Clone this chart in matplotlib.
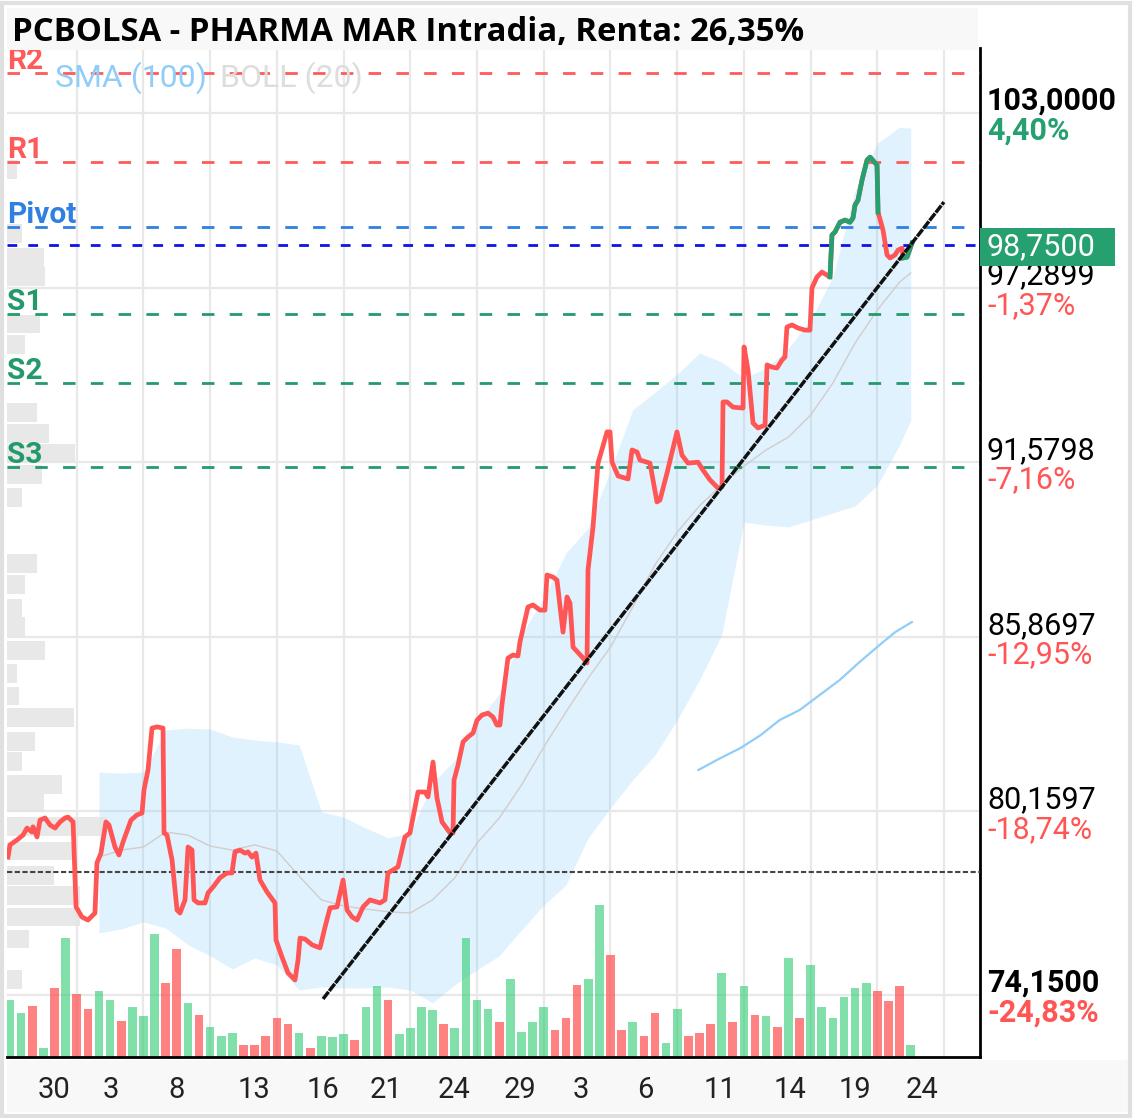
import numpy as np
import matplotlib
matplotlib.use("Agg")
import matplotlib.pyplot as plt
import matplotlib.transforms as mtransforms
from matplotlib.patches import Rectangle

plt.rcParams['font.family'] = ['Roboto', 'DejaVu Sans']

# ---- data (x = bar index, y = price in EUR) ----
price_x = [-0.18, 0.0, 0.63, 1.17, 1.53, 1.98, 2.07, 2.43, 2.70, 3.15, 3.60, 4.05, 4.50, 4.95, 5.22,
           5.67, 5.94, 6.47, 7.01, 7.64, 7.82, 8.18, 8.63, 8.90, 9.44, 9.80, 10.16, 10.88, 11.42,
           11.87, 12.05, 12.41, 12.77, 13.22, 13.76, 13.85, 14.12, 14.57, 15.02, 15.29, 15.74,
           16.01, 16.37, 16.55, 16.91, 17.54, 17.81, 18.26, 18.88, 19.51, 19.96, 20.23, 20.68,
           21.13, 21.40, 21.76, 22.12, 22.48, 23.11, 23.83, 23.92, 24.46, 25.00, 25.63, 25.90,
           26.08, 26.53, 27.16, 27.88, 28.33, 28.78, 29.41, 29.95, 30.31, 30.76, 31.21, 31.75,
           32.37, 33.27, 33.72, 33.99, 34.89, 35.52, 35.97, 36.69, 37.32, 37.59, 38.04, 38.40,
           38.85, 39.57, 39.84, 39.93, 40.29, 40.74, 41.19, 41.64, 42.00, 42.45, 42.99, 43.44,
           43.79, 44.06, 44.24, 44.78, 45.23, 45.68, 45.86, 46.58, 47.03, 47.66, 48.11, 48.29,
           48.83, 49.19, 49.73, 50.09, 50.36, 50.63, 51.44, 51.89, 51.98, 52.43, 52.88, 53.69,
           53.96, 54.14, 54.68, 55.58, 55.94, 56.39, 56.65, 57.28, 57.55, 58.18, 58.45, 59.08,
           59.98, 60.43, 60.97, 61.87, 62.32, 62.95, 63.67, 64.03, 64.12, 64.48, 65.02, 65.92,
           66.01, 66.37, 66.82, 67.27, 67.90, 68.08, 68.53, 68.97, 69.42, 69.69, 69.87, 70.32,
           70.86, 71.49, 71.94, 72.12, 72.57, 73.02, 73.47, 73.74, 73.92, 74.19, 74.64, 75.09,
           75.54, 75.81, 75.99, 76.26, 76.62, 77.07, 77.34, 77.97, 78.06, 78.51, 78.87, 79.14,
           79.59, 79.86, 80.22, 80.31, 80.67, 81.12]
price_y = [78.66, 79.06, 79.22, 79.38, 79.61, 79.48, 79.65, 79.32, 79.87, 79.94, 79.71, 79.61, 79.81,
           79.94, 79.97, 79.81, 77.03, 76.70, 76.60, 76.83, 78.47, 78.79, 79.81, 79.71, 78.99,
           78.73, 79.15, 79.87, 80.04, 80.10, 80.86, 81.51, 82.88, 82.92, 82.88, 79.45, 79.38,
           78.57, 76.93, 76.83, 77.26, 78.99, 78.89, 77.26, 77.16, 77.16, 77.49, 77.68, 77.98,
           78.14, 78.14, 78.83, 78.89, 78.79, 78.83, 78.66, 78.79, 77.91, 77.52, 77.16, 75.95,
           75.39, 74.87, 74.64, 75.29, 76.01, 75.98, 75.79, 75.69, 76.37, 77.00, 77.03, 77.91,
           76.93, 76.70, 76.60, 77.03, 77.26, 77.16, 77.26, 78.14, 78.34, 79.32, 79.45, 80.79,
           80.79, 80.63, 81.77, 80.59, 79.81, 79.45, 79.45, 81.18, 81.67, 82.43, 82.59, 82.72,
           83.14, 83.31, 83.37, 83.24, 82.98, 82.98, 83.64, 85.17, 85.27, 85.24, 85.70, 86.84,
           86.91, 86.74, 86.74, 87.89, 87.82, 87.72, 86.02, 87.17, 86.97, 85.53, 85.21, 85.01,
           88.05, 89.46, 91.55, 92.57, 92.57, 91.58, 91.13, 91.03, 91.98, 91.91, 91.65, 91.58,
           91.55, 90.28, 90.34, 91.22, 92.57, 91.81, 91.55, 91.58, 91.32, 91.00, 90.73, 90.77,
           93.55, 93.55, 93.38, 93.35, 95.35, 94.59, 92.86, 92.70, 92.79, 94.76, 94.69, 94.66,
           94.92, 95.02, 96.00, 96.07, 95.97, 95.90, 95.90, 97.28, 97.64, 97.80, 97.70, 97.64,
           99.01, 99.11, 99.43, 99.50, 99.43, 99.57, 99.99, 100.15, 100.81, 101.46, 101.56,
           101.30, 99.76, 99.17, 98.36, 98.26, 98.36, 98.52, 98.58, 98.26, 98.29, 98.75]
# stretches of the price line drawn in green
green_spans = [(73.74, 78.06), (80.31, 81.12)]

band_x = [8, 10, 12, 14, 16, 18, 20, 22, 24, 26, 28, 30, 32, 34, 36, 38, 40, 42, 44, 46, 48, 50,
          52, 54, 56, 58, 60, 62, 64, 66, 68, 70, 72, 74, 76, 78, 80, 81]
band_upper = [81.44, 81.41, 81.44, 82.82, 82.88, 82.85, 82.59, 82.49, 82.43, 82.33, 80.14, 79.97,
              79.61, 79.29, 79.45, 81.08, 81.84, 83.08, 84.00, 85.93, 87.14, 88.61, 89.43, 91.32,
              93.29, 93.87, 94.46, 95.15, 94.86, 94.33, 94.66, 95.31, 96.23, 97.64, 100.48,
              102.02, 102.54, 102.51]
band_lower = [76.18, 76.31, 76.54, 76.34, 75.79, 75.43, 75.00, 75.36, 75.13, 74.31, 74.41, 74.38,
              74.38, 74.41, 74.31, 73.89, 74.48, 74.97, 75.43, 76.28, 77.09, 77.75, 79.29, 80.27,
              81.18, 82.00, 83.15, 84.45, 85.93, 89.62, 89.52, 89.46, 89.69, 89.92, 90.15, 90.83,
              92.14, 92.96]
band_mid = [78.66, 78.89, 78.99, 79.48, 79.38, 79.02, 78.89, 79.06, 78.86, 78.04, 77.26, 77.06,
            76.96, 76.87, 76.83, 77.26, 77.98, 79.12, 79.94, 81.02, 82.26, 83.41, 84.52, 85.53,
            86.84, 88.22, 89.29, 90.15, 90.83, 91.45, 91.98, 92.40, 93.12, 94.17, 95.48, 96.56,
            97.47, 97.77]

sma_x = [61.9, 63.9, 65.7, 67.5, 69.2, 71.0, 72.8, 74.6, 76.4, 78.2, 79.6, 81.1]
sma_y = [81.51, 81.90, 82.23, 82.65, 83.14, 83.47, 83.96, 84.45, 85.04, 85.60, 86.02, 86.35]

trend_x = [28.15, 83.99]
trend_y = [74.02, 100.09]

volume = [57, 44, 51, 9, 69, 119, 63, 48, 66, 57, 36, 50, 41, 123, 74, 108, 54, 42, 30, 21,
          24, 12, 12, 21, 39, 33, 24, 9, 21, 20, 23, 17, 50, 71, 57, 23, 29, 50, 47, 33,
          29, 119, 57, 48, 35, 78, 25, 35, 50, 27, 39, 72, 78, 152, 102, 27, 35, 21, 44, 14,
          48, 21, 24, 33, 84, 35, 71, 42, 41, 30, 99, 39, 92, 50, 39, 60, 69, 74, 66, 56,
          71, 12]
vol_dir = ("ggrgrgrrgg" "rgggrrgrgg" "grrrrrgrgg" "grggrggggr" "ggggrggggr"
           "rrggrrgrrg" "grrrgrgrgr" "grggggggrr" "rg")

profile_price = [101.14, 99.07, 98.29, 97.67, 96.10, 95.44, 93.19, 92.53, 91.88, 91.19, 90.41,
                 88.25, 87.59, 86.81, 86.19, 85.43, 84.68, 83.93, 83.24, 82.43, 81.80, 81.02,
                 80.43, 79.65, 78.86, 78.07, 77.39, 76.70, 75.98, 74.64]
profile_vol = [10, 15, 37, 38, 33, 18, 30, 42, 68, 35, 15, 30, 18, 15, 18, 38, 10, 12, 67, 28,
               15, 55, 37, 100, 65, 47, 73, 73, 22, 15]

levels = {'R2': 104.31, 'R1': 101.41, 'Pivot': 99.27, 'S1': 96.42, 'S2': 94.17, 'S3': 91.42}
level_colors = {'R2': '#ff5a5a', 'R1': '#ff5a5a', 'Pivot': '#2f80e0',
                'S1': '#249a6c', 'S2': '#249a6c', 'S3': '#249a6c'}
prev_close = 98.68
ref_line = 78.17
last_price = 98.75

grid_price = [103.0, 97.2899, 91.5798, 85.8697, 80.1597, 74.15]
price_labels = ['103,0000', '97,2899', '91,5798', '85,8697', '80,1597', '74,1500']
pct_labels = ['4,40%', '-1,37%', '-7,16%', '-12,95%', '-18,74%', '-24,83%']

date_pos = [4, 9.1, 15, 21.9, 28.1, 33.8, 39.9, 45.9, 51.3, 57.1, 63.8, 70.1, 76.0, 82.0]
date_labels = ['30', '3', '8', '13', '16', '21', '24', '29', '3', '6', '11', '14', '19', '24']
grid_bars = list(range(6, 85, 6))

RED = '#ff5555'
GREEN = '#27a06f'
VOL_SPAN = 1009      # volume units over the full plot height
PROFILE_SPAN = 973   # profile units over the full plot width

# ---- figure ----
fig = plt.figure(figsize=(11.33, 11.18), dpi=100)
ax = fig.add_axes([7 / 1133, 1 - 1057 / 1118, 973 / 1133, 1009 / 1118])
ax.set_xlim(-0.27, 87.23)
ax.set_ylim(72.12, 105.13)

ax.set_xticks(grid_bars, minor=True)
ax.set_xticks(date_pos, labels=date_labels)
ax.set_yticks(grid_price)
ax.set_yticklabels([])
ax.xaxis.grid(True, which='minor', color='#e8e8e8', lw=1.6)
ax.yaxis.grid(True, which='major', color='#e8e8e8', lw=1.6)
ax.set_axisbelow(True)
ax.tick_params(axis='both', which='both', length=0)
ax.tick_params(axis='x', which='major', labelsize=21, labelcolor='#222222', pad=14)
for s in ['top', 'left']:
    ax.spines[s].set_visible(False)
for s in ['right', 'bottom']:
    ax.spines[s].set_color('black')
    ax.spines[s].set_linewidth(2)

# bollinger band
ax.fill_between(band_x, band_lower, band_upper, color='#87cefa', alpha=0.25, lw=0, zorder=1)
ax.plot(band_x, band_mid, color='#d2cccc', lw=1, zorder=2)
ax.plot(sma_x, sma_y, color='#90cdf8', lw=1.6, zorder=2)

# volume profile on the left
prof_tr = mtransforms.blended_transform_factory(
    mtransforms.Affine2D().scale(1 / PROFILE_SPAN, 1) + ax.transAxes, ax.transData)
ax.barh(profile_price, profile_vol, height=0.62, left=0, color='#e4e4e4', alpha=0.85,
        transform=prof_tr, zorder=1.2)

# volume bars
vol_tr = mtransforms.blended_transform_factory(
    ax.transData, mtransforms.Affine2D().scale(1, 1 / VOL_SPAN) + ax.transAxes)
vol_x = np.arange(len(volume))
for x, v, d in zip(vol_x, volume, vol_dir):
    ax.bar(x, v, width=0.78, color='#2ecc71' if d == 'g' else '#ff4d4d',
           alpha=0.6 if d == 'g' else 0.7, transform=vol_tr, zorder=1.5)

# pivot levels
for name, v in levels.items():
    ax.axhline(v, color=level_colors[name], lw=2, ls=(0, (4.5, 5.5)), zorder=3)
    ax.annotate(name, xy=(0, v), xycoords=ax.get_yaxis_transform(), xytext=(0, 3),
                textcoords='offset points', va='baseline', ha='left', fontsize=21.5,
                fontweight='semibold', color=level_colors[name], zorder=3,
                annotation_clip=False)
ax.axhline(prev_close, color='#1010e8', lw=2, ls=(0, (3.5, 4)), zorder=3)
ax.axhline(ref_line, color='#444444', lw=1.5, ls=(0, (2.5, 1.2)), zorder=3)

# price line
ax.plot(price_x, price_y, color=RED, lw=3.4, zorder=4, solid_joinstyle='round')
px = np.array(price_x)
py = np.array(price_y)
for a, b in green_spans:
    i0 = int(np.searchsorted(px, a))
    i1 = int(np.searchsorted(px, b)) + 1
    ax.plot(px[i0:i1], py[i0:i1], color=GREEN, lw=3.4, zorder=4.1, solid_joinstyle='round')

# trend line
ax.plot(trend_x, trend_y, color='#111111', lw=2.5, ls=(0, (2.6, 0.3)), zorder=5)

# right-hand price scale
ytr = ax.get_yaxis_transform()
for i, (v, lab, pct) in enumerate(zip(grid_price, price_labels, pct_labels)):
    bold = i in (0, len(grid_price) - 1)
    ax.annotate(lab, xy=(1, v), xycoords=ytr, xytext=(5, 2.2), textcoords='offset points',
                va='baseline', ha='left', fontsize=22, color='black',
                fontweight='bold' if bold else 'normal', annotation_clip=False)
    ax.annotate(pct, xy=(1, v), xycoords=ytr, xytext=(5, -19), textcoords='offset points',
                va='baseline', ha='left', fontsize=22,
                color=GREEN if not pct.startswith('-') else '#ff5555',
                fontweight='bold' if bold else 'normal', annotation_clip=False)

# last price box
ax.add_patch(Rectangle((1.0, last_price - 0.76), 0.139, 1.25, transform=ytr, clip_on=False,
                       fc='#26a06e', ec='none', zorder=6))
ax.annotate('98,7500', xy=(1, last_price - 0.13), xycoords=ytr, xytext=(5, 0),
            textcoords='offset points', va='center', ha='left', fontsize=22, color='white',
            zorder=7, annotation_clip=False)

# legend text
ax.text(0.049, 0.971, 'SMA (100)', transform=ax.transAxes, fontsize=23, color='#90cdf8',
        va='center', ha='left', zorder=6)
ax.text(0.219, 0.971, 'BOLL (20)', transform=ax.transAxes, fontsize=23, color='#dddddd',
        va='center', ha='left', zorder=6)

# title bar, label strip and frame
fig.patches.append(Rectangle((7 / 1133, 1 - 50 / 1118), 971 / 1133, 42 / 1118,
                             transform=fig.transFigure, fc='#f8f8f8', ec='none', zorder=1))
fig.patches.append(Rectangle((7 / 1133, 1 - 1112 / 1118), 1121 / 1133, 52 / 1118,
                             transform=fig.transFigure, fc='#f8f8f8', ec='none', zorder=-1))
fig.patches.append(Rectangle((2 / 1133, 2 / 1118), 1128 / 1133, 1113 / 1118, fill=False,
                             transform=fig.transFigure, ec='#e0e0e0', lw=3, zorder=2))
fig.text(12 / 1133, 1 - 41 / 1118, 'PCBOLSA - PHARMA MAR Intradia, Renta: 26,35%',
         fontsize=23.7, fontweight='bold', family=['Open Sans', 'DejaVu Sans'],
         va='baseline', ha='left', color='black', zorder=3)

fig.savefig('out.png', dpi=100)
